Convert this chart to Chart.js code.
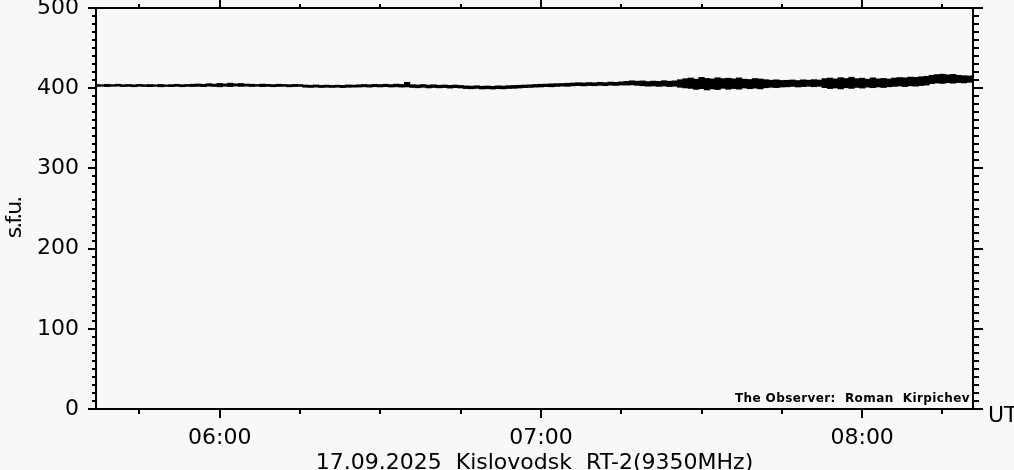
<!DOCTYPE html>
<html>
<head>
<meta charset="utf-8">
<title>Kislovodsk RT-2 9350MHz</title>
<script src="https://cdn.jsdelivr.net/npm/chart.js@4/dist/chart.umd.min.js"></script>
<style>
  html, body { margin: 0; padding: 0; background: #f8f8f8; }
  #chart { display: block; }
</style>
</head>
<body>
<canvas id="chart" width="1014" height="470"></canvas>
<script>
// one sample per minute, first sample at 05:37 UT (minutes since midnight)
const startMinute = 337;

// upper edge of the noisy trace, s.f.u.
const fluxHigh = [
    404.6, 404.3, 404.8, 404.4, 404.9, 404.3, 404.6, 404.2, 404.7, 404.3,
    404.5, 404.2, 404.6, 404.1, 404.4, 404.8, 404.3, 404.6, 404.9,
    405.2, 404.8, 405.6, 405.0, 405.9, 405.3, 406.2, 405.4, 405.8, 405.1,
    404.9, 404.6, 405.0, 404.7, 404.4, 404.9, 404.6, 404.3, 404.7, 404.5,
    403.9, 403.6, 404.0, 403.5, 403.8, 403.4, 403.7, 403.5, 404.0, 403.8,
    404.2, 404.6, 404.3, 404.8, 404.5, 404.9, 404.4, 405.0, 404.6, 407.2,
    404.3, 404.0, 404.5, 403.8, 404.2, 403.6, 404.0, 403.5, 403.9, 403.4,
    402.8, 402.5, 403.0, 402.4, 402.7, 402.3, 402.9, 402.6, 403.1, 403.4,
    403.6, 403.9, 404.2, 404.6, 404.9, 405.1, 405.4, 405.6, 405.8, 406.1,
    406.4, 406.8, 406.5, 407.0, 406.7, 407.3, 406.9, 407.6, 407.2, 407.9,
    408.5, 409.2, 408.7, 409.0, 408.2, 408.8, 408.4, 409.3, 408.6, 409.1,
    410.5, 411.8, 412.6, 411.2, 413.4, 412.1, 411.5, 413.0, 411.9, 412.4,
    411.6, 412.8, 411.2, 410.8, 412.0, 411.4, 410.6, 409.9, 410.4, 409.6,
    409.8, 410.2, 409.5, 410.4, 409.9, 410.6, 410.1, 411.9, 412.6, 411.5,
    413.1, 412.0, 413.6, 411.8, 412.4, 411.2, 412.9, 411.6, 412.1, 411.4,
    412.6, 413.2, 412.9, 413.8, 413.4, 414.2, 414.8,
    416.1, 416.9, 417.4, 416.6, 417.2, 416.0, 415.5, 415.2, 415.8
];

// lower edge of the noisy trace, s.f.u.
const fluxLow = [
    402.2, 402.5, 402.0, 402.4, 402.6, 402.1, 402.3, 401.9, 402.4, 402.2,
    402.0, 402.3, 401.8, 402.2, 402.0, 402.4, 401.9, 402.3, 402.1,
    402.3, 402.0, 402.6, 402.2, 401.8, 402.5, 402.1, 402.7, 402.3, 402.6,
    402.2, 402.5, 402.0, 402.3, 401.9, 402.2, 402.4, 401.8, 402.1, 402.3,
    401.3, 401.0, 401.4, 400.9, 401.2, 401.0, 401.3, 400.8, 401.2, 401.4,
    401.5, 401.8, 401.4, 401.9, 401.6, 402.0, 401.5, 401.8, 401.4, 401.7,
    401.0, 400.6, 401.2, 400.4, 400.9, 400.5, 400.8, 400.2, 400.7, 400.3,
    399.6, 399.3, 399.8, 399.1, 399.4, 399.0, 399.5, 399.2, 399.7, 399.9,
    400.3, 400.8, 401.0, 401.4, 401.6, 402.0, 401.8, 402.3, 402.6, 402.4,
    403.0, 403.3, 402.9, 403.4, 403.1, 403.6, 403.2, 403.8, 403.5, 404.0,
    403.9, 404.2, 403.6, 403.1, 402.6, 402.9, 402.3, 402.8, 402.1, 402.5,
    401.2, 400.4, 399.8, 398.6, 399.5, 397.9, 399.2, 398.4, 399.9, 398.7,
    399.6, 398.9, 400.3, 399.4, 400.1, 399.2, 400.6, 401.2, 400.8, 401.5,
    401.8, 402.3, 401.6, 402.1, 402.5, 401.9, 402.4, 400.8, 399.6, 400.3,
    399.2, 400.6, 399.8, 401.0, 400.2, 401.4, 400.7, 401.6, 400.9, 401.8,
    402.3, 402.8, 402.1, 403.0, 402.6, 403.4, 403.9,
    405.8, 406.5, 406.0, 406.9, 406.3, 407.1, 406.6, 407.4, 407.9
];

const xMin = 336.9;
const xMax = 500.7;
const xTickValues = [360, 420, 480];
const xTickLabels = ['06:00', '07:00', '08:00'];
const xMinorValues = [345, 360, 375, 390, 405, 420, 435, 450, 465, 480, 495];

const yMin = 0;
const yMax = 500;
const yTickValues = [0, 100, 200, 300, 400, 500];
const yMinorStep = 10;

const axisTitle = 's.f.u.';
const timeUnit = 'UT';
const caption = '17.09.2025  Kislovodsk  RT-2(9350MHz)';
const observer = 'The Observer:  Roman  Kirpichev';

const font = 'DejaVu Sans';
const ink = '#000000';

// each minute becomes a floating bar spanning the trace's low..high
const minuteBars = fluxLow.map((lo, i) => ({ x: startMinute + i, y: [lo, fluxHigh[i]] }));

// frame, tick marks all round, and the loose texts
const framePlugin = {
    id: 'frame',
    afterDraw(chart) {
        const ctx = chart.ctx;
        const area = chart.chartArea;
        const xs = chart.scales.x;
        const ys = chart.scales.y;
        ctx.save();
        ctx.strokeStyle = ink;
        ctx.lineWidth = 2;
        ctx.strokeRect(area.left, area.top, area.right - area.left, area.bottom - area.top);

        ctx.beginPath();
        xMinorValues.forEach(v => {
            const px = Math.round(xs.getPixelForValue(v));
            const major = xTickValues.includes(v);
            ctx.moveTo(px, area.top);
            ctx.lineTo(px, area.top - (major ? 8 : 4));
            ctx.moveTo(px, area.bottom);
            ctx.lineTo(px, area.bottom + (major ? 9 : 5));
        });
        for (let v = yMin; v <= yMax; v += yMinorStep) {
            const py = Math.round(ys.getPixelForValue(v));
            const major = v % 100 === 0;
            ctx.moveTo(area.left, py);
            ctx.lineTo(area.left - (major ? 8 : 4), py);
            ctx.moveTo(area.right, py);
            ctx.lineTo(area.right + (major ? 10 : 6), py);
        }
        ctx.stroke();

        ctx.fillStyle = ink;
        ctx.font = '22px "' + font + '"';
        ctx.textBaseline = 'alphabetic';

        ctx.save();
        ctx.translate(21, 218);
        ctx.rotate(-Math.PI / 2);
        ctx.textAlign = 'center';
        ctx.letterSpacing = '-2px';
        ctx.fillText(axisTitle, 0, 0);
        ctx.restore();

        ctx.textAlign = 'left';
        ctx.fillText(timeUnit, 988, 422);

        ctx.textAlign = 'center';
        ctx.fillText(caption, (area.left + area.right) / 2, 469);

        ctx.font = 'bold 12px "' + font + '"';
        ctx.textAlign = 'right';
        ctx.letterSpacing = '0.4px';
        ctx.fillText(observer, area.right - 3, 402);
        ctx.restore();
    }
};

const chart = new Chart(document.getElementById('chart'), {
    type: 'bar',
    data: {
        datasets: [
            {
                label: 'flux',
                data: minuteBars,
                backgroundColor: ink,
                borderColor: ink,
                borderWidth: 0,
                barPercentage: 1.0,
                categoryPercentage: 1.0,
                inflateAmount: 0.4,
                borderSkipped: false
            }
        ]
    },
    options: {
        responsive: false,
        animation: false,
        devicePixelRatio: 1,
        layout: { padding: { top: 8, right: 41, left: 0, bottom: 0 } },
        plugins: {
            legend: { display: false },
            tooltip: { enabled: false }
        },
        scales: {
            x: {
                type: 'linear',
                position: 'bottom',
                offset: false,
                min: xMin,
                max: xMax,
                afterBuildTicks: s => { s.ticks = xTickValues.map(v => ({ value: v })); },
                afterFit: s => { s.height = 61; s.paddingLeft = 0; s.paddingRight = 0; },
                ticks: {
                    callback: (v, i) => xTickLabels[i],
                    color: ink,
                    font: { family: font, size: 22 },
                    padding: 8,
                    maxRotation: 0,
                    autoSkip: false
                },
                grid: { display: false },
                border: { display: false }
            },
            y: {
                type: 'linear',
                position: 'left',
                min: yMin,
                max: yMax,
                afterBuildTicks: s => { s.ticks = yTickValues.map(v => ({ value: v })); },
                afterFit: s => { s.width = 96; s.paddingTop = 0; s.paddingBottom = 0; },
                ticks: {
                    color: ink,
                    font: { family: font, size: 22 },
                    padding: 9,
                    autoSkip: false
                },
                grid: { display: false },
                border: { display: false }
            }
        }
    },
    plugins: [framePlugin]
});
</script>
</body>
</html>
